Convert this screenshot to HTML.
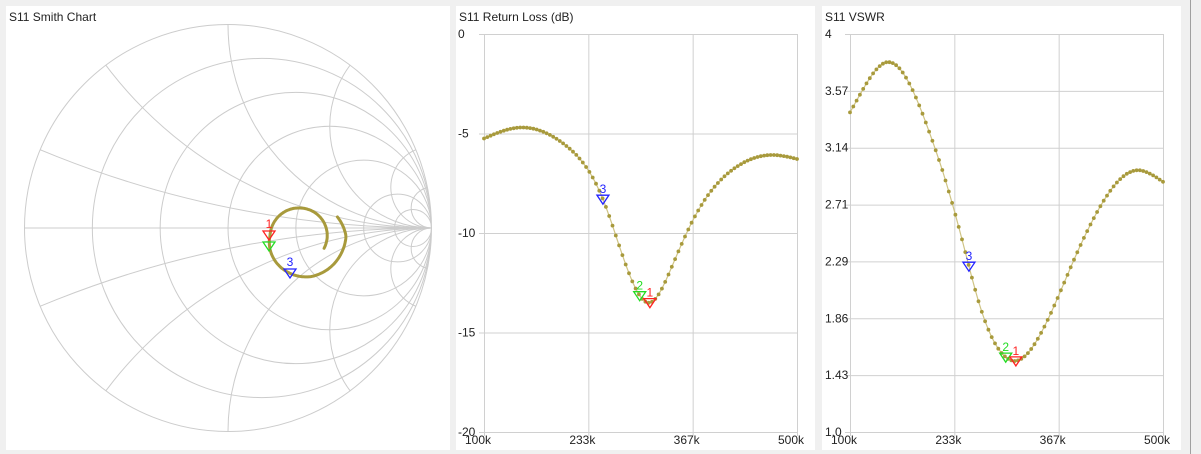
<!DOCTYPE html>
<html><head><meta charset="utf-8">
<style>
html,body{margin:0;padding:0;background:#f0f0f0;width:1201px;height:454px;overflow:hidden;}
svg{display:block;font-family:"Liberation Sans",sans-serif;}
</style></head><body>
<svg id="s" width="1201" height="454" xmlns="http://www.w3.org/2000/svg">
<rect x="0" y="0" width="1201" height="454" fill="#f0f0f0"/>
<rect x="6" y="6" width="444" height="444" fill="#fff"/>
<rect x="456" y="6" width="359" height="444" fill="#fff"/>
<rect x="822" y="6" width="359" height="444" fill="#fff"/>
<line x1="1190.5" y1="0" x2="1190.5" y2="454" stroke="#a0a0a0"/>
<text x="9" y="21" font-size="12" fill="#222">S11 Smith Chart</text>
<text x="459" y="21" font-size="12" fill="#222">S11 Return Loss (dB)</text>
<text x="825" y="21" font-size="12" fill="#222">S11 VSWR</text>
<defs><clipPath id="uc"><circle cx="228" cy="228" r="203.5"/></clipPath></defs>
<g id="smith" fill="none" stroke="#cccccc" stroke-width="1"></g>
<g id="g1"></g>
</svg>
<script>
const NS="http://www.w3.org/2000/svg";
function el(tag,attrs,parent,txt){const e=document.createElementNS(NS,tag);for(const k in attrs)e.setAttribute(k,attrs[k]);if(txt!==undefined)e.textContent=txt;(parent||document.getElementById('s')).appendChild(e);return e;}
const cx=228,cy=228,R=203.5,sm=document.getElementById('smith');
el('circle',{cx:cx,cy:cy,r:R},sm);
el('line',{x1:cx-R,y1:cy,x2:cx+R,y2:cy},sm);
const gc=el('g',{'clip-path':'url(#uc)'},sm);
[0.2,0.5,1,2,5,10].forEach(r=>{el('circle',{cx:cx+R*r/(r+1),cy:cy,r:R/(r+1)},gc);});
[0.2,0.5,1,2,5,10].forEach(x=>{el('circle',{cx:cx+R,cy:cy-R/x,r:R/x},gc);el('circle',{cx:cx+R,cy:cy+R/x,r:R/x},gc);});
const g1=document.getElementById('g1');
const ks=[[27,27],[-90,28],[-180,30],[-284,42],[-360,46],[-387,42]];
function rAt(a){for(let i=0;i<ks.length-1;i++){const [a0,r0]=ks[i],[a1,r1]=ks[i+1];if(a<=a0&&a>=a1)return r0+(r1-r0)*(a-a0)/(a1-a0);}return 42;}
let d='';for(let a=27;a>=-387;a-=2){const r=rAt(a),t=a*Math.PI/180;const x=300+r*Math.cos(t),y=236+r*Math.sin(t);d+=(d?'L':'M')+x.toFixed(1)+','+y.toFixed(1);}
el('path',{d:d,fill:'none',stroke:'#a89a3c','stroke-width':3,'stroke-linecap':'round'},g1);
function mk(x,y,col,lab,ly){el('path',{d:`M${x-6},${y-4} L${x+6},${y-4} L${x},${y+5} Z`,fill:'none',stroke:col,'stroke-width':1.3},g1);if(lab)el('text',{x:x,y:ly,'font-size':12,fill:col,'text-anchor':'middle'},g1,lab);}
mk(269,246,'#22dd22','2',null);mk(269,235,'#ff2222','1',228);mk(290,273,'#2222ff','3',266);
// natural cubic spline
const P=[[100,-5.25],[146,-4.7],[206,-5.65],[252,-8.3],[285,-12.0],[312,-13.5],[340,-11.7],[367,-9.35],[420,-6.75],[469,-6.08],[500,-6.28]];
const n=P.length,X=P.map(p=>p[0]),Y=P.map(p=>p[1]);
const M=new Array(n).fill(0);
(function(){const a=[],b=[],c=[],r=[];for(let i=1;i<n-1;i++){const h0=X[i]-X[i-1],h1=X[i+1]-X[i];a.push(h0);b.push(2*(h0+h1));c.push(h1);r.push(6*((Y[i+1]-Y[i])/h1-(Y[i]-Y[i-1])/h0));}
 const m=b.length;for(let i=1;i<m;i++){const w=a[i]/b[i-1];b[i]-=w*c[i-1];r[i]-=w*r[i-1];}
 const s=new Array(m);s[m-1]=r[m-1]/b[m-1];for(let i=m-2;i>=0;i--)s[i]=(r[i]-c[i]*s[i+1])/b[i];for(let i=0;i<m;i++)M[i+1]=s[i];})();
function cr(f){let i=0;while(i<n-2&&f>X[i+1])i++;const h=X[i+1]-X[i],A=(X[i+1]-f)/h,B=(f-X[i])/h;
 return A*Y[i]+B*Y[i+1]+((A*A*A-A)*M[i]+(B*B*B-B)*M[i+1])*h*h/6;}
function chart(x0,x1,y0,y1,ylabels,yv,lx,markers){
 const g=el('g',{});
 for(let i=0;i<ylabels.length;i++){const y=y0+(y1-y0)*i/(ylabels.length-1);el('line',{x1:x0-5,y1:y+0.5,x2:x1,y2:y+0.5,stroke:'#d0d0d0'},g);el('text',{x:lx,y:y+4,'font-size':12,fill:'#222'},g,ylabels[i]);}
 const xs=['100k','233k','367k','500k'];
 for(let i=0;i<4;i++){const x=x0+(x1-x0)*i/3;el('line',{x1:x+0.5,y1:y0,x2:x+0.5,y2:y1+4,stroke:'#d0d0d0'},g);el('text',{x:x-6,y:444,'font-size':12,fill:'#222','text-anchor':'middle'},g,xs[i]);}
 let d='';const pts=[];
 for(let k=0;k<=95;k++){const f=100+400*k/95;const v=yv(cr(f));const x=x0+(x1-x0)*(f-100)/400;pts.push([x,v]);d+=(d?'L':'M')+x.toFixed(1)+','+v.toFixed(1);}
 el('path',{d:d,fill:'none',stroke:'#cfc485','stroke-width':1.2},g);
 pts.forEach(p=>el('circle',{cx:p[0].toFixed(1),cy:p[1].toFixed(1),r:1.9,fill:'#a89a3c'},g));
 markers.forEach(m=>{const x=x0+(x1-x0)*(m[0]-100)/400,y=yv(cr(m[0]));el('path',{d:`M${x-6},${y-4} L${x+6},${y-4} L${x},${y+5} Z`,fill:'none',stroke:m[1],'stroke-width':1.3},g);el('text',{x:x,y:y-6,'font-size':12,fill:m[1],'text-anchor':'middle'},g,m[2]);});
}
const mks=[[299,'#22dd22','2'],[312,'#ff2222','1'],[252,'#2222ff','3']];
chart(484,797,34,432,['0','-5','-10','-15','-20'],db=>34+(-db)*19.9,458,mks);
chart(850,1163,34,432,['4','3.57','3.14','2.71','2.29','1.86','1.43','1.0'],db=>{const g=Math.pow(10,db/20);const v=(1+g)/(1-g);return 34+(4-v)/3*398;},825,mks);
</script>
</body></html>
